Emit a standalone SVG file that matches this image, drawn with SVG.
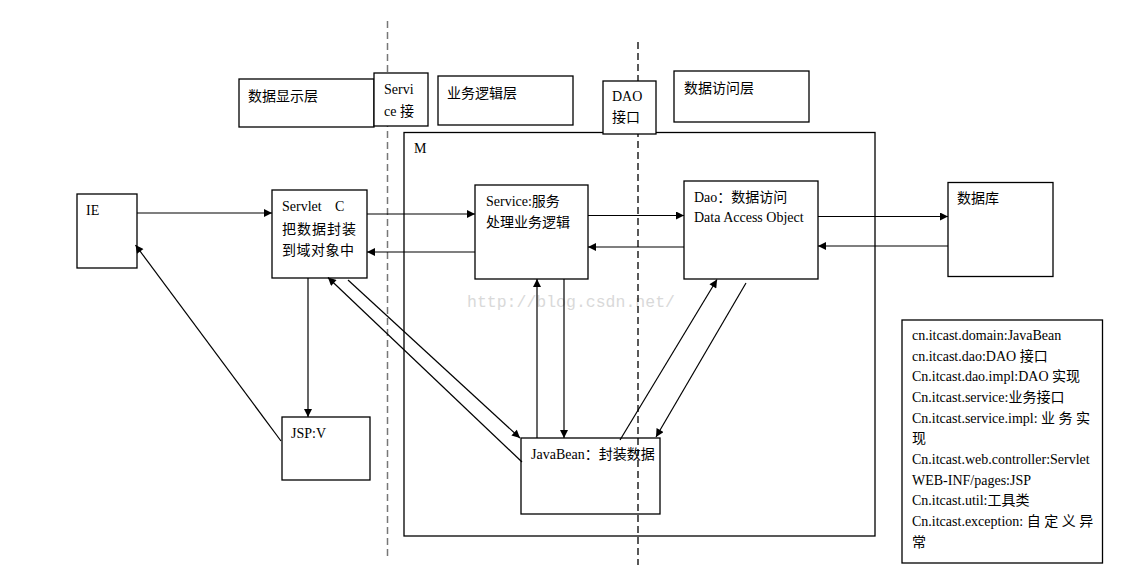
<svg xmlns="http://www.w3.org/2000/svg" width="1122" height="586" viewBox="0 0 1122 586">
<style>
  .box { fill: none; stroke: #000; stroke-width: 1.3; }
  .wbox { fill: #fff; stroke: #000; stroke-width: 1.3; }
  .t { font-family: "Liberation Serif", "Noto Sans CJK SC", serif; font-size: 14px; fill: #000; }
  .c { font-family: "Noto Sans CJK SC", sans-serif; font-size: 14px; fill: #000; }
  .conn path { fill: none; stroke: #000; stroke-width: 1.2; }
  .arr { marker-end: url(#ah); }
  .wm { font-family: "Liberation Mono", monospace; font-size: 16.5px; fill: #d9d9d9; }
</style>
<defs>
  <marker id="ah" viewBox="0 0 10 10" refX="10" refY="5" markerWidth="9" markerHeight="8" markerUnits="userSpaceOnUse" orient="auto">
    <path d="M0,0 L10,5 L0,10 z" fill="#000"/>
  </marker>
</defs>
<rect width="1122" height="586" fill="#fff"/>

<g id="watermark"><text class="wm" x="467" y="307">http://blog.csdn.net/</text></g>

<g id="M"><rect class="box" x="404" y="132.5" width="471" height="403.5"/><text class="t" x="414" y="153">M</text></g>
<g id="ie"><rect class="box" x="77" y="194" width="60" height="74"/><text class="t" x="86" y="215">IE</text></g>
<g id="servlet"><rect class="box" x="272" y="190" width="95" height="88"/>
  <text class="t" x="282" y="211">Servlet<tspan x="335">C</tspan></text>
  <text class="c" x="282" y="234" letter-spacing="1">把数据封装</text>
  <text class="c" x="282" y="255" letter-spacing="0.5">到域对象中</text>
</g>
<g id="service"><rect class="box" x="475" y="185" width="113" height="94"/>
  <text class="t" x="486" y="206">Service:服务</text>
  <text class="c" x="486" y="227">处理业务逻辑</text>
</g>
<g id="dao"><rect class="box" x="684" y="181" width="134" height="98"/>
  <text class="t" x="694" y="202">Dao：数据访问</text>
  <text class="t" x="694" y="222">Data Access Object</text>
</g>
<g id="db"><rect class="box" x="948" y="182.5" width="105" height="94"/><text class="c" x="957" y="203">数据库</text></g>
<g id="jsp"><rect class="box" x="282" y="417" width="88" height="63"/><text class="t" x="291" y="438">JSP:V</text></g>
<g id="javabean"><rect class="box" x="521" y="438" width="139" height="76"/><text class="t" x="531" y="459">JavaBean：封装数据</text></g>

<g id="dividers">
  <line x1="387.5" y1="21" x2="387.5" y2="557" stroke="#777" stroke-width="1.5" stroke-dasharray="7,4"/>
  <line x1="638" y1="42" x2="638" y2="565" stroke="#000" stroke-width="1.3" stroke-dasharray="7,4"/>
</g>

<g id="layer-display"><rect class="wbox" x="239" y="79" width="135" height="48"/><text class="c" x="248" y="101">数据显示层</text></g>
<g id="service-if"><rect class="wbox" x="374" y="73" width="54" height="53"/>
  <text class="t" x="384" y="94">Servi</text>
  <text class="t" x="384" y="116">ce <tspan font-family="Noto Sans CJK SC, sans-serif">接</tspan></text>
</g>
<g id="layer-biz"><rect class="wbox" x="438" y="76" width="135" height="49"/><text class="c" x="447" y="98">业务逻辑层</text></g>
<g id="dao-if"><rect class="wbox" x="603" y="81" width="53" height="53"/>
  <text class="t" x="612" y="101">DAO</text>
  <text class="c" x="612" y="122">接口</text>
</g>
<g id="layer-data"><rect class="wbox" x="674" y="71" width="135" height="51"/><text class="c" x="684" y="93">数据访问层</text></g>

<g id="legend"><rect class="box" x="902" y="320" width="200.5" height="243"/>
  <text class="t" x="912" y="340">cn.itcast.domain:JavaBean</text>
  <text class="t" x="912" y="361">cn.itcast.dao:DAO 接口</text>
  <text class="t" x="912" y="381">Cn.itcast.dao.impl:DAO 实现</text>
  <text class="t" x="912" y="402">Cn.itcast.service:业务接口</text>
  <text class="t" x="912" y="423">Cn.itcast.service.impl: 业 务 实</text>
  <text class="t" x="912" y="443">现</text>
  <text class="t" x="912" y="464">Cn.itcast.web.controller:Servlet</text>
  <text class="t" x="912" y="485">WEB-INF/pages:JSP</text>
  <text class="t" x="912" y="505">Cn.itcast.util:工具类</text>
  <text class="t" x="912" y="526">Cn.itcast.exception: 自 定 义 异</text>
  <text class="t" x="912" y="547">常</text>
</g>

<g id="connectors" class="conn">
  <path class="arr" d="M137,213 H272"/>
  <path class="arr" d="M367,214 H475"/>
  <path class="arr" d="M475,252 H367"/>
  <path class="arr" d="M588,215.5 H684"/>
  <path class="arr" d="M684,247 H588"/>
  <path class="arr" d="M818,216.5 H948"/>
  <path class="arr" d="M948,246 H818"/>
  <path class="arr" d="M308,278 V417"/>
  <path class="arr" d="M281,441 L135.5,245"/>
  <path class="arr" d="M522,462 L328,277.5"/>
  <path class="arr" d="M348,280 L520,438"/>
  <path class="arr" d="M537,438 V279"/>
  <path class="arr" d="M564,279 V438"/>
  <path class="arr" d="M620,440 L717,279.5"/>
  <path class="arr" d="M746,283 L656,437"/>
</g>
</svg>
